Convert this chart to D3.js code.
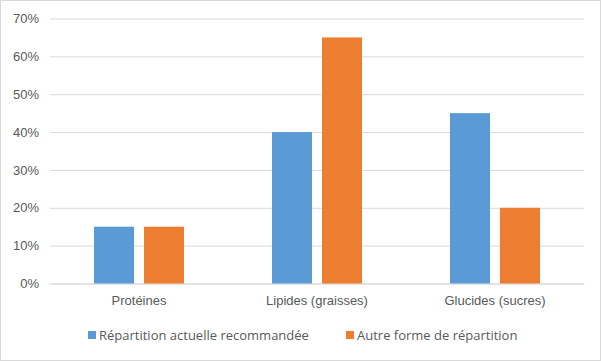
<!DOCTYPE html>
<html><head><meta charset="utf-8">
<script src="https://cdn.jsdelivr.net/npm/d3@7"></script>
<style>body{margin:0;background:#fff}svg{display:block;font-family:"Open Sans",sans-serif}</style>
</head><body><svg id="c" width="601" height="361"></svg>
<script>
const categories = ["Protéines", "Lipides (graisses)", "Glucides (sucres)"];
const seriesNames = ["Répartition actuelle recommandée", "Autre forme de répartition"];
const seriesA = [0.15, 0.40, 0.45];
const seriesB = [0.15, 0.65, 0.20];
const yTicks = [0, 0.1, 0.2, 0.3, 0.4, 0.5, 0.6, 0.7];
const colors = ["#5B9BD5", "#ED7D31"];

const svg = d3.select("#c");
svg.append("rect").attr("x",0.5).attr("y",0.5).attr("width",600).attr("height",360)
  .attr("fill","#fff").attr("stroke","#d9d9d9");

const L=50, R=584, T=18.5, B=283.5;
const x = d3.scaleBand().domain(categories).range([L,R]);
const inner = d3.scaleBand().domain([0,1]).range([0,90]).paddingInner(0.2);
const y = d3.scaleLinear().domain([0,0.7]).range([B,T]);

const fmt = d3.format(".0%");
const yAxis = d3.axisLeft(y).tickValues(yTicks).tickFormat(fmt).tickSize(-(R-L)).tickPadding(11);
const gy = svg.append("g").attr("transform",`translate(${L},0)`).call(yAxis);
gy.select(".domain").remove();
gy.selectAll(".tick line").attr("stroke","#d9d9d9");
gy.selectAll(".tick text").attr("fill","#595959").style("font-size","13px");

const xAxis = d3.axisBottom(x).tickSize(0).tickPadding(12);
const gx = svg.append("g").attr("transform",`translate(0,${B})`).call(xAxis);
gx.select(".domain").attr("stroke","#d9d9d9");
gx.selectAll(".tick text").attr("fill","#595959").style("font-size","13px");

const data = categories.map((c,i)=>({c, v:[seriesA[i], seriesB[i]]}));
const g = svg.append("g");
data.forEach(d=>{
  const x0 = x(d.c) + (x.bandwidth()-90)/2;
  d.v.forEach((v,j)=>{
    g.append("rect").attr("x", x0+inner(j)).attr("width", inner.bandwidth())
      .attr("y", y(v)).attr("height", B - y(v)).attr("fill", colors[j]);
  });
});

const leg = svg.append("g").attr("transform","translate(0,335)");
const legX = [88, 346];
seriesNames.forEach((n,j)=>{
  leg.append("rect").attr("x",legX[j]).attr("y",-4).attr("width",8).attr("height",8).attr("fill",colors[j]);
  leg.append("text").attr("x",legX[j]+11).attr("y",0).attr("dy","0.35em")
    .attr("fill","#595959").style("font-size","13px").text(n);
});
</script></body></html>
